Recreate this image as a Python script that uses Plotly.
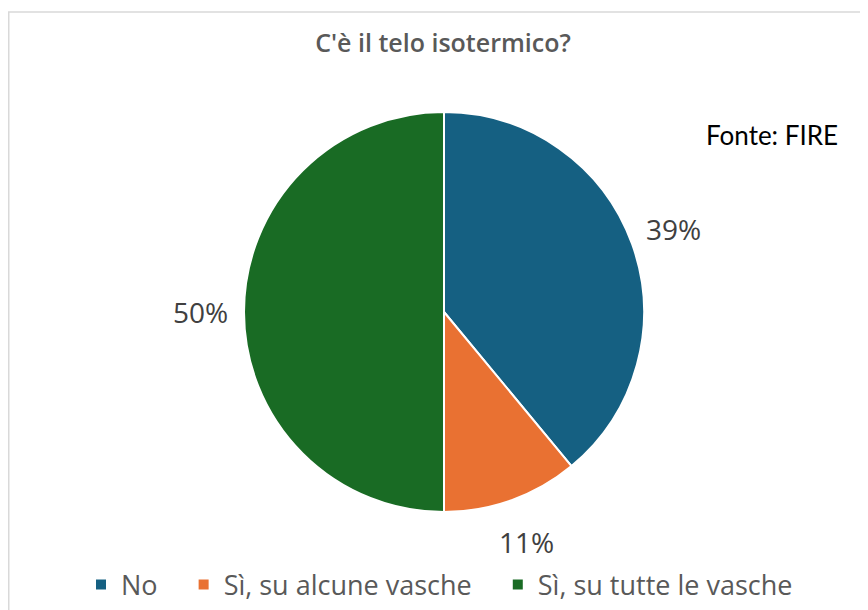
import math
import plotly.graph_objects as go

title = "C'è il telo isotermico?"
source = "Fonte: FIRE"
labels = ["No", "Sì, su alcune vasche", "Sì, su tutte le vasche"]
values = [39, 11, 50]
colors = ["#156082", "#E97132", "#196B24"]

W, H = 868, 610
OFF = 8  # page body margin offset of the rendered figure
CX, CY, RAD = 444 - OFF, 312 - OFF, 200  # pie placement in figure pixels

PAD = "\u00a0" * 3  # spacing between legend entries


def px_to_paper(x, y):
    return (x - OFF) / W, 1 - (y - OFF) / H


fig = go.Figure(
    go.Pie(
        labels=labels,
        values=values,
        sort=False,
        direction="clockwise",
        rotation=0,
        marker=dict(colors=colors, line=dict(color="white", width=2)),
        textinfo="none",
        hovertemplate="%{label}: %{percent}<extra></extra>",
        domain=dict(
            x=[(CX - RAD) / W, (CX + RAD) / W],
            y=[1 - (CY + RAD) / H, 1 - (CY - RAD) / H],
        ),
    )
)
# legend text with extra spacing after entries
fig.data[0].labels = [lab + PAD if i < len(labels) - 1 else lab for i, lab in enumerate(labels)]

# percentage labels placed outside each slice, derived from the data
total = sum(values)
cum = 0
annotations = []
for v in values:
    mid = (cum + v / 2) / total * 2 * math.pi
    cum += v
    rl = 1.22 * RAD
    ax = (CX + rl * math.sin(mid)) / W
    ay = 1 - (CY - rl * math.cos(mid)) / H
    annotations.append(
        dict(
            x=ax, y=ay, xref="paper", yref="paper",
            text=f"{round(v / total * 100)}%",
            showarrow=False, xanchor="center", yanchor="middle",
            font=dict(family="Open Sans", size=28, color="#404040"),
        )
    )

fx, fy = px_to_paper(772, 135)
annotations.append(
    dict(
        x=fx, y=fy, xref="paper", yref="paper", text=source, showarrow=False,
        xanchor="center", yanchor="middle",
        font=dict(family="Lato", size=26, color="#000000"),
    )
)

bx0, by0 = px_to_paper(8.75, 12)
bx1, by1 = px_to_paper(W + 20, H + 20)
lx, ly = px_to_paper(81, 585)
tx, ty = px_to_paper(443, 43)

fig.update_layout(
    width=W,
    height=H,
    margin=dict(l=0, r=0, t=0, b=0),
    paper_bgcolor="white",
    plot_bgcolor="white",
    title=dict(
        text=title,
        x=tx, xref="container", xanchor="center",
        y=ty, yref="container", yanchor="middle",
        font=dict(family="Open Sans", size=25, color="#595959", weight=600),
    ),
    showlegend=True,
    legend=dict(
        orientation="h",
        x=lx, y=ly, xanchor="left", yanchor="middle",
        bgcolor="rgba(0,0,0,0)",
        font=dict(family="Open Sans", size=27, color="#595959"),
        itemclick=False, itemdoubleclick=False,
    ),
    annotations=annotations,
    shapes=[
        dict(
            type="rect", xref="paper", yref="paper",
            x0=bx0, y0=by0, x1=bx1, y1=by1,
            line=dict(color="#D9D9D9", width=1.5),
            fillcolor="rgba(0,0,0,0)", layer="below",
        )
    ],
)

fig.write_html("out.html")
